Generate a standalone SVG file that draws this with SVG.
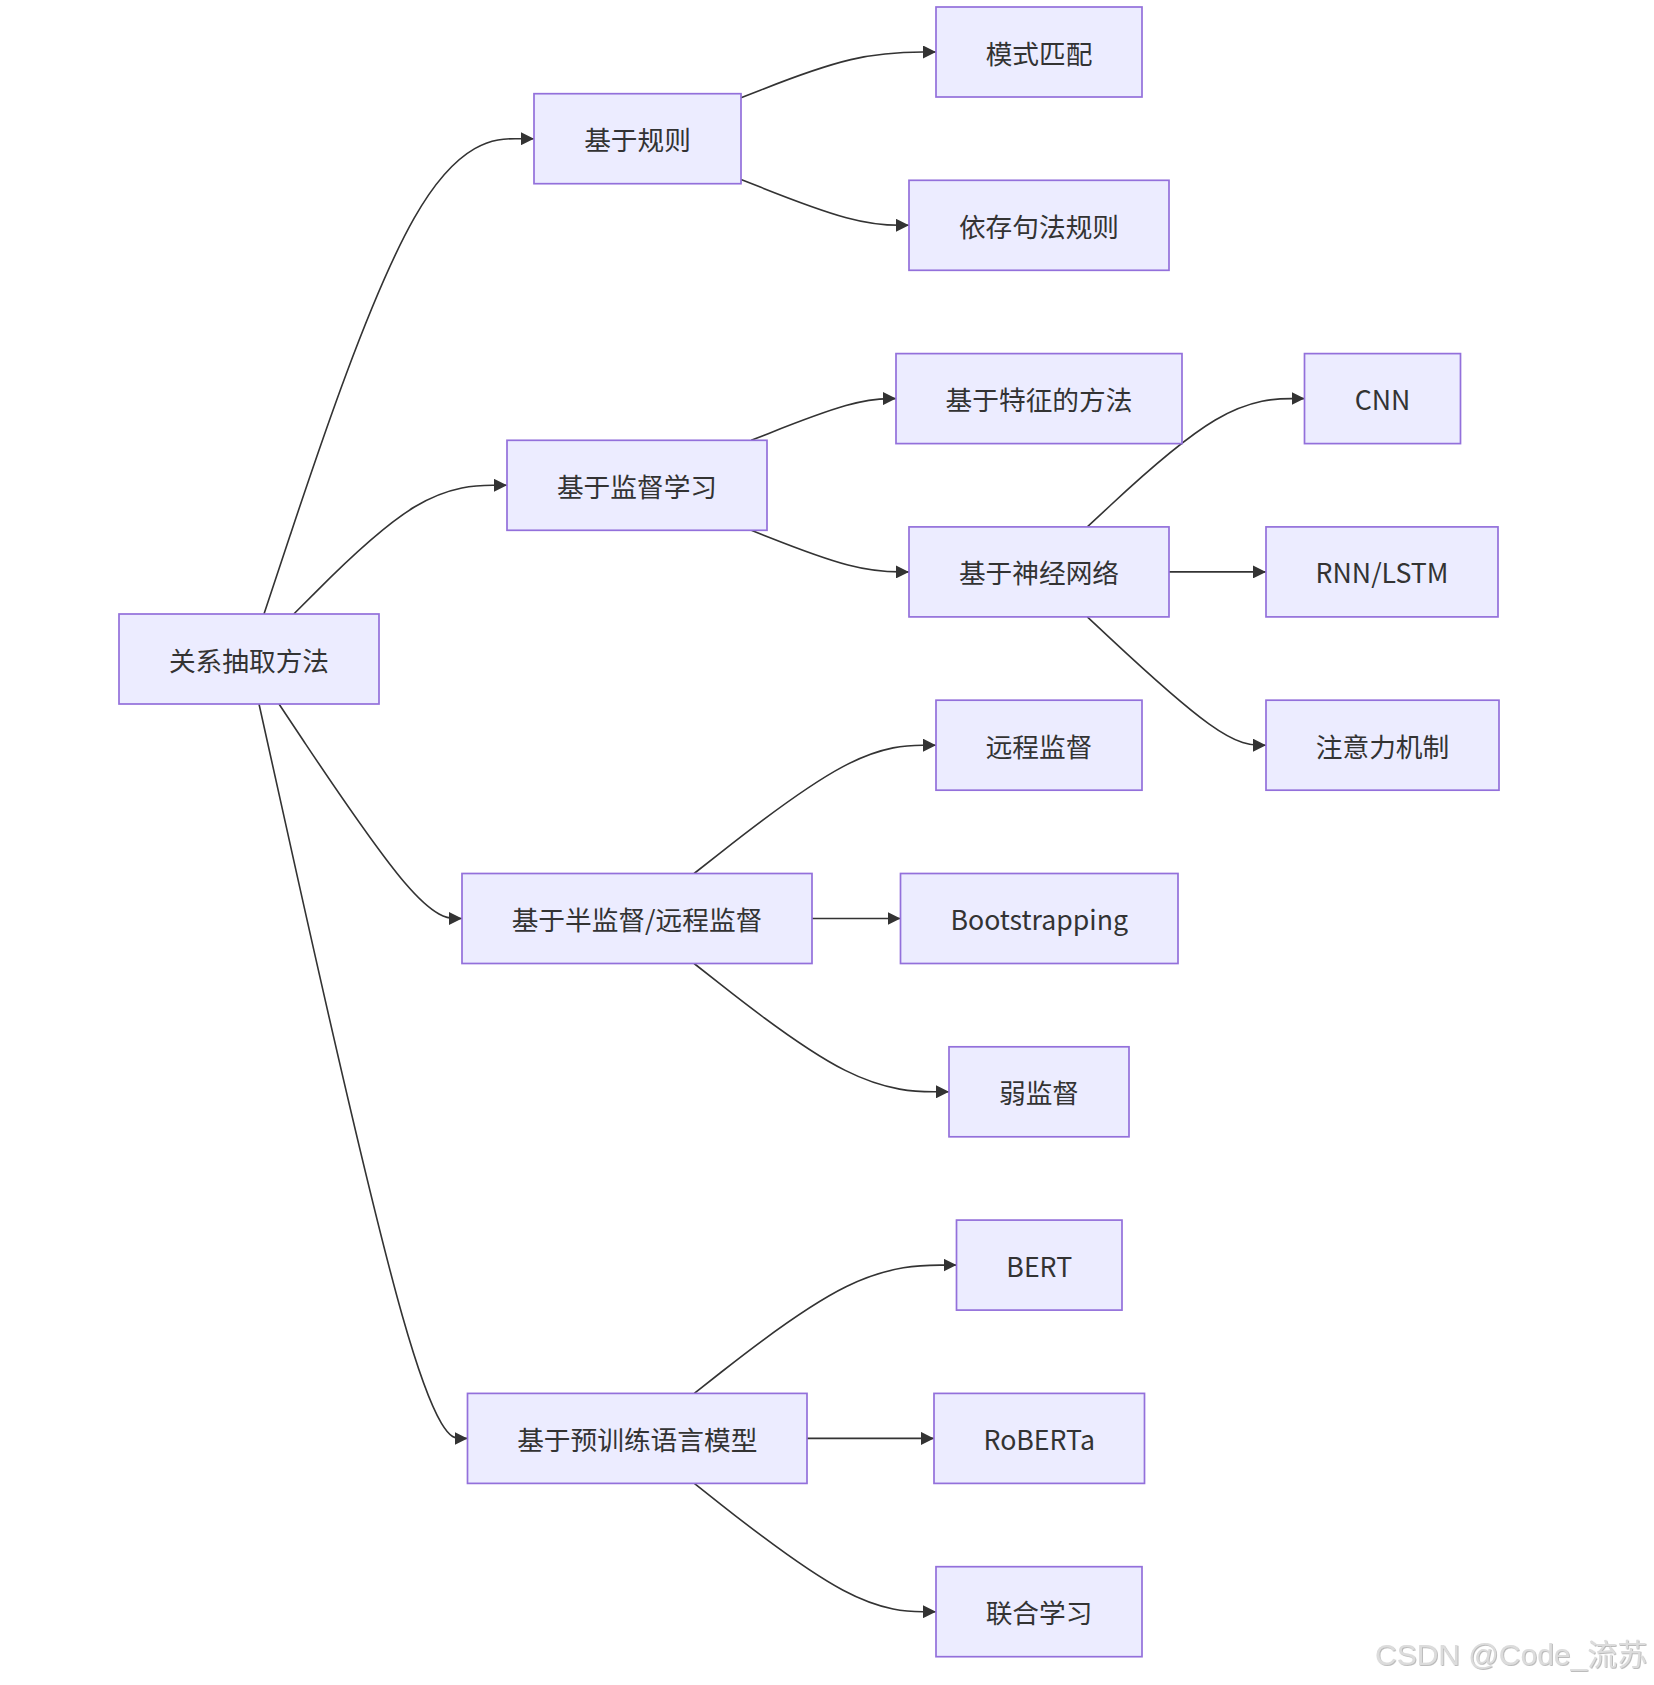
<svg xmlns="http://www.w3.org/2000/svg" width="1654" height="1685" viewBox="0 0 1654 1685">
<style>
.node rect{fill:#ECECFF;stroke:#9370DB;stroke-width:1.7}
.node text{font-family:"Noto Sans CJK SC","Noto Sans",sans-serif;font-size:26.7px;fill:#333;text-anchor:middle;dominant-baseline:central}
.edges path{fill:none;stroke:#333;stroke-width:1.6;marker-end:url(#arrow)}
.wm{font-family:"Liberation Sans","Noto Sans CJK SC",sans-serif;font-size:30px;fill:#dcdcdc}
</style>
<defs>
<marker id="arrow" viewBox="0 0 10 10" refX="10" refY="5" markerUnits="userSpaceOnUse" markerWidth="13" markerHeight="13" orient="auto">
<path d="M0,0 L10,5 L0,10 z" fill="#333"/>
</marker>
<filter id="sh" x="-5%" y="-20%" width="110%" height="140%">
<feDropShadow dx="0.8" dy="0.8" stdDeviation="0.6" flood-color="#888" flood-opacity="0.7"/>
</filter>
</defs>
<rect width="1654" height="1685" fill="#fff"/>
<g class="edges">
<path d="M264,614 L290.3,534.8 C316.7,455.6 369.3,297.1 414.3,217.9 C459.3,138.7 496.7,138.7 515.3,138.7 L534,138.7"/>
<path d="M293.8,614 L315.2,592.6 C336.5,571.1 379.3,528.2 414.8,506.8 C450.3,485.3 478.7,485.3 492.8,485.3 L507,485.3"/>
<path d="M279,704 L302.8,739.8 C326.7,775.5 374.3,847 404.8,882.8 C435.3,918.5 448.7,918.5 455.3,918.5 L462,918.5"/>
<path d="M259,704 L286.2,826.4 C313.3,948.8 367.7,1193.6 402.4,1316 C437.2,1438.4 452.3,1438.4 459.9,1438.4 L467.5,1438.4"/>
<path d="M741,97.8 L760.3,90.2 C779.7,82.5 818.3,67.3 850.8,59.6 C883.3,52 909.7,52 922.8,52 L936,52"/>
<path d="M741,179.5 L760.3,187.1 C779.7,194.8 818.3,210 846.3,217.7 C874.3,225.3 891.7,225.3 900.3,225.3 L909,225.3"/>
<path d="M751.2,440.3 L768.8,433.4 C786.5,426.4 821.7,412.5 845.9,405.6 C870,398.6 883,398.6 889.5,398.6 L896,398.6"/>
<path d="M751.3,530.3 L768.8,537.2 C786.5,544.2 821.7,558 848,565 C874.3,571.9 891.7,571.9 900.3,571.9 L909,571.9"/>
<path d="M694.1,873.5 L721.3,852.1 C748.4,830.7 802.7,788 843,766.6 C883.3,745.2 909.7,745.2 922.8,745.2 L936,745.2"/>
<path d="M812,918.5 L900.5,918.5"/>
<path d="M694.1,963.5 L721.3,984.9 C748.4,1006.3 802.7,1049 845.2,1070.4 C887.7,1091.8 918.3,1091.8 933.7,1091.8 L949,1091.8"/>
<path d="M694.3,1393.4 L721.4,1372 C748.5,1350.6 802.8,1307.9 846.5,1286.5 C890.2,1265.1 923.3,1265.1 939.9,1265.1 L956.5,1265.1"/>
<path d="M807,1438.4 L934,1438.4"/>
<path d="M694.3,1483.4 L721.4,1504.8 C748.5,1526.2 802.8,1568.9 843.1,1590.3 C883.3,1611.7 909.7,1611.7 922.8,1611.7 L936,1611.7"/>
<path d="M1087.3,526.9 L1110.3,505.5 C1133.2,484.1 1179.1,441.4 1215.3,420 C1251.5,398.6 1278,398.6 1291.3,398.6 L1304.5,398.6"/>
<path d="M1169,571.9 L1266,571.9"/>
<path d="M1087.3,616.9 L1110.3,638.3 C1133.2,659.7 1179.1,702.4 1208.9,723.8 C1238.7,745.2 1252.3,745.2 1259.2,745.2 L1266,745.2"/>
</g>
<g id="n-root" class="node"><rect x="119" y="614" width="260" height="90"/><text x="249" y="659">关系抽取方法</text></g>
<g id="n-rule" class="node"><rect x="534" y="93.7" width="207" height="90"/><text x="637.5" y="138.7">基于规则</text></g>
<g id="n-sup" class="node"><rect x="507" y="440.3" width="260" height="90"/><text x="637" y="485.3">基于监督学习</text></g>
<g id="n-semi" class="node"><rect x="462" y="873.5" width="350" height="90"/><text x="637" y="918.5">基于半监督/远程监督</text></g>
<g id="n-plm" class="node"><rect x="467.5" y="1393.4" width="339.5" height="90"/><text x="637.25" y="1438.4">基于预训练语言模型</text></g>
<g id="n-pattern" class="node"><rect x="936" y="7" width="206" height="90"/><text x="1039" y="52">模式匹配</text></g>
<g id="n-dep" class="node"><rect x="909" y="180.3" width="260" height="90"/><text x="1039" y="225.3">依存句法规则</text></g>
<g id="n-feat" class="node"><rect x="896" y="353.6" width="286" height="90"/><text x="1039" y="398.6">基于特征的方法</text></g>
<g id="n-nn" class="node"><rect x="909" y="526.9" width="260" height="90"/><text x="1039" y="571.9">基于神经网络</text></g>
<g id="n-ds" class="node"><rect x="936" y="700.2" width="206" height="90"/><text x="1039" y="745.2">远程监督</text></g>
<g id="n-boot" class="node"><rect x="900.5" y="873.5" width="277.5" height="90"/><text x="1039.25" y="918.5">Bootstrapping</text></g>
<g id="n-weak" class="node"><rect x="949" y="1046.8" width="180" height="90"/><text x="1039" y="1091.8">弱监督</text></g>
<g id="n-bert" class="node"><rect x="956.5" y="1220.1" width="165.5" height="90"/><text x="1039.25" y="1265.1">BERT</text></g>
<g id="n-roberta" class="node"><rect x="934" y="1393.4" width="210.5" height="90"/><text x="1039.25" y="1438.4">RoBERTa</text></g>
<g id="n-joint" class="node"><rect x="936" y="1566.7" width="206" height="90"/><text x="1039" y="1611.7">联合学习</text></g>
<g id="n-cnn" class="node"><rect x="1304.5" y="353.6" width="156" height="90"/><text x="1382.5" y="398.6">CNN</text></g>
<g id="n-rnn" class="node"><rect x="1266" y="526.9" width="232" height="90"/><text x="1382" y="571.9">RNN/LSTM</text></g>
<g id="n-att" class="node"><rect x="1266" y="700.2" width="233" height="90"/><text x="1382.5" y="745.2">注意力机制</text></g>
<text class="wm" x="1375" y="1665" filter="url(#sh)">CSDN @Code_流苏</text>
</svg>
